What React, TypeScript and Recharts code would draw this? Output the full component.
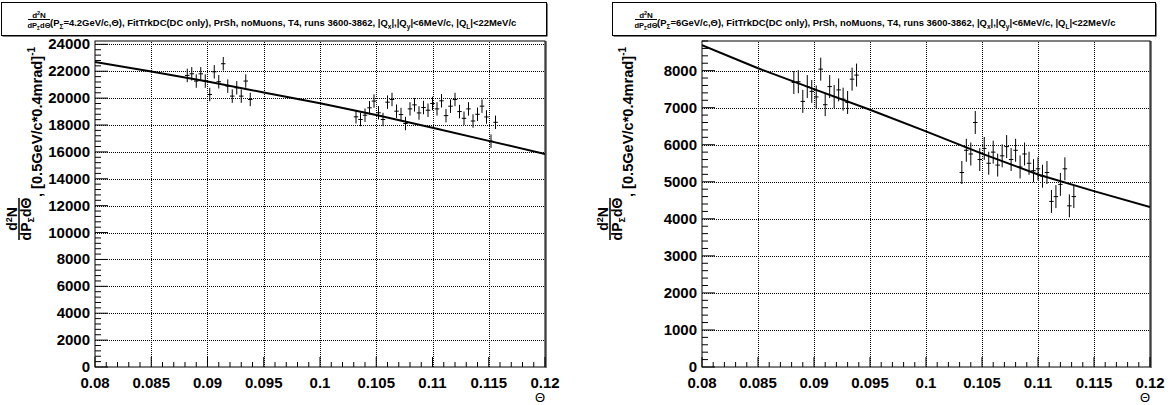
import React from "react";
import {
  ComposedChart,
  Line,
  Scatter,
  ErrorBar,
  XAxis,
  YAxis,
} from "recharts";

const FONT = "'Liberation Sans', Arial, Helvetica, sans-serif";

// Theta axis
const xMajorTicks = [0.08, 0.085, 0.09, 0.095, 0.1, 0.105, 0.11, 0.115, 0.12];
const xTickLabels = ["0.08", "0.085", "0.09", "0.095", "0.1", "0.105", "0.11", "0.115", "0.12"];

// left panel: P = 4.2 GeV/c
const leftTheta = [
  0.0882, 0.0886, 0.089, 0.0894, 0.0898, 0.0902, 0.0906, 0.091, 0.0914, 0.0918, 0.0922, 0.0926, 0.093, 0.0934, 0.0938,
  0.1032, 0.1036, 0.104, 0.1044, 0.1048, 0.1052, 0.1056, 0.106, 0.1064, 0.1068, 0.1072, 0.1076, 0.108, 0.1084, 0.1088,
  0.1092, 0.1096, 0.11, 0.1104, 0.1108, 0.1112, 0.1116, 0.112, 0.1124, 0.1128, 0.1132, 0.1136, 0.114, 0.1144, 0.1148,
  0.1152, 0.1156,
];
const leftYield = [
  21690, 21810, 21270, 21810, 21270, 20270, 21960, 21220, 22560, 20890, 20150, 20770, 20150, 21270, 19900,
  18610, 18410, 18730, 19280, 19780, 18910, 18410, 19700, 19900, 19030, 18780, 18110, 19200, 19500, 18900,
  19300, 19100, 19600, 19200, 19800, 18700, 19400, 19900, 19000, 18500, 19200, 18300, 18800, 19400, 18600,
  16800, 18200,
];
const leftErr = 500;
const leftFitTheta = [0.08, 0.085, 0.09, 0.095, 0.1, 0.105, 0.11, 0.115, 0.12];
const leftFitValue = [22680, 21980, 21230, 20420, 19620, 18750, 17800, 16820, 15850];

// right panel: P = 6 GeV/c
const rightTheta = [
  0.0882, 0.0886, 0.089, 0.0894, 0.0898, 0.0902, 0.0906, 0.091, 0.0914, 0.0918, 0.0922, 0.0926, 0.093, 0.0934, 0.0938,
  0.1032, 0.1036, 0.104, 0.1044, 0.1048, 0.1052, 0.1056, 0.106, 0.1064, 0.1068, 0.1072, 0.1076, 0.108, 0.1084, 0.1088,
  0.1092, 0.1096, 0.11, 0.1104, 0.1108, 0.1112, 0.1116, 0.112, 0.1124, 0.1128, 0.1132,
];
const rightYield = [
  7680, 7700, 7170, 7570, 7440, 7290, 8040, 7080, 7570, 7300, 7480, 7230, 7140, 7770, 7880,
  5250, 5850, 5750, 6600, 5600, 5900, 5500, 5800, 5450, 5700, 5950, 5600, 5850, 5400, 5750,
  5500, 5300, 5350, 5150, 5250, 4470, 4600, 4930, 5350, 4350, 4600,
];
const rightErr = 310;
const rightFitTheta = [0.08, 0.085, 0.09, 0.095, 0.1, 0.105, 0.11, 0.115, 0.12];
const rightFitValue = [8690, 8065, 7500, 6944, 6360, 5760, 5196, 4748, 4317];

const halfBin = 0.0002;
const PLOT_TOP = 41;
const PLOT_BOTTOM = 367;

// all theta ticks (minor every 0.001)
const xAllTicks: number[] = [];
for (let i = 0; i <= 40; i++) xAllTicks.push(Math.round((0.08 + i * 0.001) * 1e4) / 1e4);

const makeYTicks = (max: number, step: number) => {
  const out: number[] = [];
  for (let v = 0; v <= max; v += step) out.push(v);
  return out;
};

// dotted grid as small absolute segments (1px on, 1px off)
const dotsH = (x: number, y: number, len: number) => {
  const parts: string[] = [];
  for (let i = 0; i < len; i += 2) parts.push(`M ${x + i} ${y} L ${x + i + 1} ${y}`);
  return parts.join(" ");
};
const dotsV = (x: number, y: number, len: number) => {
  const parts: string[] = [];
  for (let i = 0; i < len; i += 2) parts.push(`M ${x} ${y - i} L ${x} ${y - i - 1}`);
  return parts.join(" ");
};

const XTick = (props: any) => {
  const { x, y, payload } = props;
  const idx = xMajorTicks.findIndex((t) => Math.abs(t - payload.value) < 1e-9);
  const major = idx >= 0;
  const inner = major && idx > 0 && idx < xMajorTicks.length - 1;
  const gx = Math.round(x) + 0.5;
  return (
    <g>
      {inner && <path d={dotsV(gx, y, PLOT_BOTTOM - PLOT_TOP)} fill="none" stroke="#000" strokeWidth={1} />}
      <line x1={x} x2={x} y1={y} y2={y - (major ? 10 : 5)} stroke="#000" />
      {major && (
        <text x={x} y={y + 21} textAnchor="middle" fontSize={15} fontWeight="bold" fontFamily={FONT} fill="#000">
          {xTickLabels[idx]}
        </text>
      )}
    </g>
  );
};

const makeYTick = (majorStep: number, plotWidth: number) => (props: any) => {
  const { x, y, payload } = props;
  const major = payload.value % majorStep === 0;
  const gy = Math.round(y) + 0.5;
  return (
    <g>
      {major && payload.value > 0 && <path d={dotsH(x, gy, plotWidth)} fill="none" stroke="#000" strokeWidth={1} />}
      <line x1={x} x2={x + (major ? 13 : 6)} y1={y} y2={y} stroke="#000" />
      {major && (
        <text x={x - 5} y={y + 5} textAnchor="end" fontSize={15} fontWeight="bold" fontFamily={FONT} fill="#000">
          {String(payload.value)}
        </text>
      )}
    </g>
  );
};

const Panel = ({ left, width, plotLeft, plotRight, theta, yields, err, fitTheta, fitValue, yMax, minorStep, majorStep }: any) => {
  const pts = theta.map((t: number, i: number) => ({ x: t, y: yields[i], ey: err, ex: halfBin }));
  const fit = fitTheta.map((t: number, i: number) => ({ x: t, y: fitValue[i] }));
  const YTick = makeYTick(majorStep, plotRight - plotLeft);
  return (
    <div style={{ position: "absolute", left, top: 0 }}>
      <ComposedChart
        width={width}
        height={405}
        margin={{ top: PLOT_TOP, bottom: 405 - PLOT_BOTTOM - 1, left: plotLeft - left - 1, right: left + width - plotRight }}
      >
        <XAxis
          type="number"
          dataKey="x"
          domain={[0.08, 0.12]}
          ticks={xAllTicks}
          interval={0}
          allowDataOverflow
          height={1}
          tickSize={0}
          tickMargin={0}
          tickLine={false}
          axisLine={false}
          tick={<XTick />}
        />
        <YAxis
          type="number"
          domain={[0, yMax]}
          ticks={makeYTicks(yMax, minorStep)}
          interval={0}
          allowDataOverflow
          width={1}
          tickSize={0}
          tickMargin={0}
          tickLine={false}
          axisLine={false}
          tick={<YTick />}
        />
        <Scatter data={pts} dataKey="y" shape={() => <g />} isAnimationActive={false}>
          <ErrorBar dataKey="ey" direction="y" width={0} stroke="#000" strokeWidth={1} isAnimationActive={false} />
          <ErrorBar dataKey="ex" direction="x" width={0} stroke="#000" strokeWidth={1} isAnimationActive={false} />
        </Scatter>
        <Line data={fit} dataKey="y" stroke="#000" strokeWidth={2} dot={false} isAnimationActive={false} />
      </ComposedChart>
    </div>
  );
};

const Title = ({ boxX, boxW, fracX, textX, p }: any) => (
  <g fontFamily={FONT} fontWeight="bold" fill="#000">
    <rect x={boxX + 1.5} y={3.5} width={boxW} height={33} fill="#000" />
    <rect x={boxX + 0.5} y={2.5} width={boxW} height={33} fill="#fff" stroke="#000" />
    <text x={fracX} y={17.5} textAnchor="middle" fontSize={8}>
      d<tspan dy={-3} fontSize={5.5}>2</tspan>
      <tspan dy={3}>N</tspan>
    </text>
    <line x1={fracX - 11} x2={fracX + 11} y1={19.5} y2={19.5} stroke="#000" strokeWidth={1} />
    <text x={fracX} y={27.5} textAnchor="middle" fontSize={7.5}>
      dP<tspan dy={2} fontSize={5}>Σ</tspan>
      <tspan dy={-2}>dΘ</tspan>
    </text>
    <text x={textX} y={26} fontSize={9.45}>
      (P<tspan dy={3} fontSize={6.6}>Σ</tspan>
      <tspan dy={-3}>{`=${p}GeV/c,Θ), FitTrkDC(DC only), PrSh, noMuons, T4, runs 3600-3862, |Q`}</tspan>
      <tspan dy={3} fontSize={6.6}>x</tspan>
      <tspan dy={-3}>|,|Q</tspan>
      <tspan dy={3} fontSize={6.6}>y</tspan>
      <tspan dy={-3}>{"|<6MeV/c, |Q"}</tspan>
      <tspan dy={3} fontSize={6.6}>L</tspan>
      <tspan dy={-3}>{"|<22MeV/c"}</tspan>
    </text>
  </g>
);

const YTitle = ({ x0, y0 }: any) => (
  <g transform={`translate(${x0},${y0}) rotate(-90)`} fontFamily={FONT} fontWeight="bold" fill="#000">
    <text x={21} y={-25.5} textAnchor="middle" fontSize={14}>
      d<tspan dy={-5} fontSize={9}>2</tspan>
      <tspan dy={5}>N</tspan>
    </text>
    <line x1={0} x2={42} y1={-23} y2={-23} stroke="#000" strokeWidth={1.5} />
    <text x={21} y={-11} textAnchor="middle" fontSize={14}>
      dP<tspan dy={3} fontSize={9}>Σ</tspan>
      <tspan dy={-3}>dΘ</tspan>
    </text>
    <text x={43} y={0} fontSize={14.6}>
      , [0.5GeV/c*0.4mrad]<tspan dy={-7} fontSize={10}>-1</tspan>
    </text>
  </g>
);

export default function App() {
  return (
    <div style={{ position: "absolute", left: 0, top: 0, width: 1175, height: 405, background: "#fff", overflow: "hidden" }}>
      <Panel
        left={0}
        width={590}
        plotLeft={95}
        plotRight={545}
        theta={leftTheta}
        yields={leftYield}
        err={leftErr}
        fitTheta={leftFitTheta}
        fitValue={leftFitValue}
        yMax={24250}
        minorStep={400}
        majorStep={2000}
      />
      <Panel
        left={590}
        width={585}
        plotLeft={702}
        plotRight={1150}
        theta={rightTheta}
        yields={rightYield}
        err={rightErr}
        fitTheta={rightFitTheta}
        fitValue={rightFitValue}
        yMax={8800}
        minorStep={200}
        majorStep={1000}
      />
      <svg width={1175} height={405} style={{ position: "absolute", left: 0, top: 0, pointerEvents: "none" }}>
        <rect x={95} y={41} width={450} height={326} fill="none" stroke="#000" />
        <line x1={546} x2={546} y1={41} y2={368} stroke="#000" />
        <rect x={702} y={41} width={448} height={326} fill="none" stroke="#000" />
        <line x1={1151} x2={1151} y1={41} y2={368} stroke="#000" />
        <Title boxX={1} boxW={545} fracX={39} textX={50} p="4.2" />
        <Title boxX={612} boxW={543} fracX={646} textX={657} p="6" />
        <YTitle x0={42} y0={240} />
        <YTitle x0={633} y0={240} />
        <text x={545} y={402} textAnchor="end" fontSize={13} fontFamily={FONT}>Θ</text>
        <text x={1150} y={402} textAnchor="end" fontSize={13} fontFamily={FONT}>Θ</text>
      </svg>
    </div>
  );
}
